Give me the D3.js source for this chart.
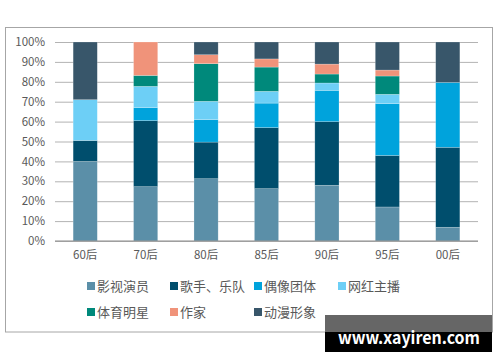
<!DOCTYPE html>
<html>
<head>
<meta charset="utf-8">
<script src="https://cdn.jsdelivr.net/npm/d3@7"></script>
<style>
  body { margin: 0; background: #fff; }
  text { font-family: "Noto Sans CJK SC", "Liberation Sans", sans-serif; }
</style>
</head>
<body>
<div id="main"></div>
<script>
"use strict";

// generations on the x axis
var categories = ["60后", "70后", "80后", "85后", "90后", "95后", "00后"];
var seriesNames = ["影视演员", "歌手、乐队", "偶像团体", "网红主播", "体育明星", "作家", "动漫形象"];
var seriesColors = ["#5b8fa8", "#004e6d", "#00a3dc", "#6dcff6", "#00897b", "#f0937a", "#38566a"];
var yTicks = [0, 0.1, 0.2, 0.3, 0.4, 0.5, 0.6, 0.7, 0.8, 0.9, 1];

// share (%) per series, one value per category
var actors  = [40.0, 27.3, 31.3, 26.3, 28.0, 17.1, 6.9];
var singers = [10.5, 33.2, 18.4, 30.7, 32.0, 25.9, 40.2];
var idols   = [0, 6.5, 11.3, 12.3, 15.7, 26.0, 32.6];
var streamers = [20.5, 10.7, 9.2, 5.9, 3.7, 4.7, 0];
var athletes  = [0, 5.5, 18.9, 12.2, 4.5, 9.2, 0];
var writers   = [0, 16.8, 4.5, 4.1, 5.0, 3.0, 0];
var anime     = [29.0, 0, 6.4, 8.5, 11.1, 14.1, 20.3];

var allSeries = [actors, singers, idols, streamers, athletes, writers, anime];

var W = 500, H = 362;
var svg = d3.select("#main").append("svg").attr("width", W).attr("height", H);

// outer frame
svg.append("rect").attr("x", 5.5).attr("y", 27.5).attr("width", 487).attr("height", 304.5)
  .attr("fill", "none").attr("stroke", "#a6a6a6").attr("stroke-width", 1);

var x = d3.scaleBand().domain(categories).range([55, 478]).paddingInner(0.6).paddingOuter(0.3);
var y = d3.scaleLinear().domain([0, 1]).range([241, 42]);

// table for stacking
var table = categories.map(function(c, i) {
  var row = { cat: c };
  var total = 0;
  allSeries.forEach(function(s) { total += s[i]; });
  seriesNames.forEach(function(n, k) { row[n] = allSeries[k][i] / total; });
  return row;
});
var stacked = d3.stack().keys(seriesNames)(table);

// gridlines
var yAxis = d3.axisLeft(y).tickValues(yTicks).tickFormat(d3.format(".0%"))
  .tickSize(-(478 - 55)).tickPadding(10);
var gy = svg.append("g").attr("transform", "translate(55,0)").call(yAxis);
gy.select(".domain").remove();
gy.selectAll(".tick line").attr("stroke", "#b3b3b3").attr("stroke-width", 1);
gy.selectAll(".tick text").attr("fill", "#595959").attr("font-size", 11.5)
  .attr("font-family", "'Liberation Sans', Arial, sans-serif");

// bars
svg.append("g").selectAll("g").data(stacked).enter().append("g")
  .attr("fill", function(d, i) { return seriesColors[i]; })
  .selectAll("rect").data(function(d) { return d; }).enter().append("rect")
  .attr("x", function(d) { return x(d.data.cat); })
  .attr("y", function(d) { return y(d[1]); })
  .attr("width", x.bandwidth())
  .attr("height", function(d) { return Math.max(0, y(d[0]) - y(d[1])); })
  .attr("stroke", "#ffffff").attr("stroke-opacity", 0.35).attr("stroke-width", 0.6);

// x axis
var xAxis = d3.axisBottom(x).tickSize(0).tickPadding(10);
var gx = svg.append("g").attr("transform", "translate(0,241)").call(xAxis);
gx.select(".domain").attr("stroke", "#8c8c8c").attr("stroke-width", 1.2)
  .attr("d", "M55,0H478");
gx.selectAll(".tick text").attr("fill", "#595959").attr("font-size", 11.5);

// legend
var legendPos = [
  [87, 286], [170, 286], [254, 286], [338, 286],
  [87, 312], [170, 312], [254, 312]
];
var lg = svg.append("g").selectAll("g").data(seriesNames).enter().append("g")
  .attr("transform", function(d, i) { return "translate(" + legendPos[i][0] + "," + legendPos[i][1] + ")"; });
lg.append("rect").attr("x", 0).attr("y", -4).attr("width", 8).attr("height", 8)
  .attr("fill", function(d, i) { return seriesColors[i]; });
lg.append("text").attr("x", 10).attr("y", 0).attr("dy", "0.35em")
  .attr("font-size", 13).attr("fill", "#595959").text(function(d) { return d; });

// watermark
svg.append("rect").attr("x", 325).attr("y", 315).attr("width", 167).attr("height", 17).attr("fill", "#666666");
svg.append("rect").attr("x", 325).attr("y", 332).attr("width", 167).attr("height", 20).attr("fill", "#000000");
svg.append("text").attr("x", 409).attr("y", 343.5).attr("text-anchor", "middle")
  .attr("font-family", "'Open Sans', 'DejaVu Sans', sans-serif").attr("font-weight", "bold")
  .attr("font-size", 17).attr("fill", "#ffffff")
  .attr("textLength", 142).attr("lengthAdjust", "spacingAndGlyphs")
  .text("www.xayiren.com");
</script>
</body>
</html>
